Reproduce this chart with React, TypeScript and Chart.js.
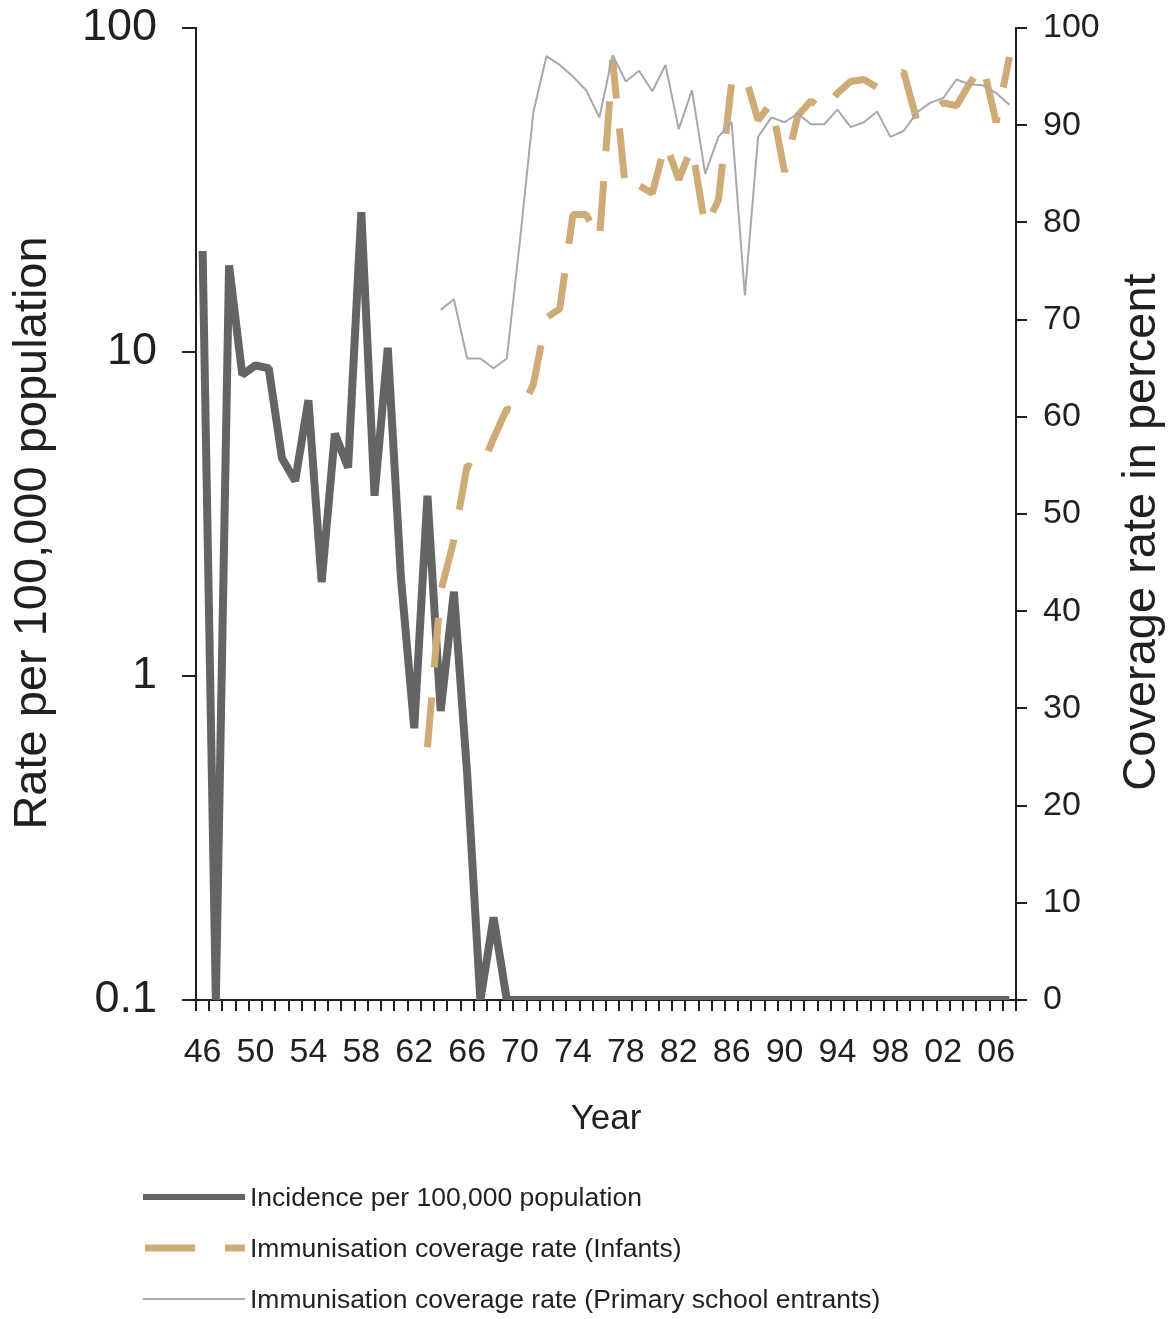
import React, { useEffect, useRef } from "react";
import { Chart, registerables } from "chart.js";

Chart.register(...registerables);

// ---------- DATA ----------
const years = [
  "1946", "1947", "1948", "1949", "1950", "1951", "1952", "1953", "1954", "1955",
  "1956", "1957", "1958", "1959", "1960", "1961", "1962", "1963", "1964", "1965",
  "1966", "1967", "1968", "1969", "1970", "1971", "1972", "1973", "1974", "1975",
  "1976", "1977", "1978", "1979", "1980", "1981", "1982", "1983", "1984", "1985",
  "1986", "1987", "1988", "1989", "1990", "1991", "1992", "1993", "1994", "1995",
  "1996", "1997", "1998", "1999", "2000", "2001", "2002", "2003", "2004", "2005",
  "2006", "2007",
];

const xTickLabels = ["46", "50", "54", "58", "62", "66", "70", "74", "78", "82", "86", "90", "94", "98", "02", "06"];
const leftTicks = [0.1, 1, 10, 100];

// Incidence per 100,000 population (log axis; 0.1 = axis floor / nil)
const incidence = [
  20.5, 0.1, 18.5, 8.5, 9.1, 8.9, 4.7, 4.0, 7.1, 1.95,
  5.6, 4.4, 27, 3.6, 10.3, 2.0, 0.69, 3.6, 0.78, 1.82,
  0.5, 0.1, 0.18, 0.1, 0.1, 0.1, 0.1, 0.1, 0.1, 0.1,
  0.1, 0.1, 0.1, 0.1, 0.1, 0.1, 0.1, 0.1, 0.1, 0.1,
  0.1, 0.1, 0.1, 0.1, 0.1, 0.1, 0.1, 0.1, 0.1, 0.1,
  0.1, 0.1, 0.1, 0.1, 0.1, 0.1, 0.1, 0.1, 0.1, 0.1,
  0.1, 0.1,
];

// Immunisation coverage rate (Infants), percent
const infants = [
  null, null, null, null, null, null, null, null, null, null,
  null, null, null, null, null, null, null, 26, 42, 47.3,
  55, 54.5, 57.8, 60.8, 60.5, 63.3, 70.2, 71.1, 80.8, 80.8,
  78.2, 96.7, 83.1, 83.8, 83, 88.2, 84.4, 87.8, 79.5, 82.3,
  94.4, 95.2, 90.5, 92.3, 85.2, 91, 92.5, 91.4, 93.3, 94.5,
  94.7, 93.9, 94.7, 95.5, 90.5, 91.3, 92.3, 92, 94.3, 96.2,
  90.3, 97,
];

// Immunisation coverage rate (Primary school entrants), percent
const primary = [
  null, null, null, null, null, null, null, null, null, null,
  null, null, null, null, null, null, null, null, 71.0, 72.1,
  66.0, 66.0, 65.0, 66.0, 78.2, 91.3, 97.1, 96.2, 95.0, 93.6,
  90.8, 97.2, 94.5, 95.6, 93.5, 96.2, 89.6, 93.6, 85.0, 88.8,
  90.3, 72.5, 88.8, 90.8, 90.3, 91.2, 90.1, 90.1, 91.6, 89.8,
  90.3, 91.4, 88.8, 89.4, 91.3, 92.3, 92.8, 94.7, 94.2, 94.1,
  93.3, 92.1,
];

const seriesLabels = [
  "Incidence per 100,000 population",
  "Immunisation coverage rate (Infants)",
  "Immunisation coverage rate (Primary school entrants)",
];
const xTitle = "Year";
const leftTitle = "Rate per 100,000 population";
const rightTitle = "Coverage rate in percent";

// ---------- STYLE ----------
const FONT = '"Liberation Sans", Arial, Helvetica, sans-serif';
const AXIS = "#231f20";
const DARK = "#646464";
const TAN = "#cfab78";
const GREY = "#a7a8ab";

const decorPlugin = {
  id: "decor",
  afterDraw(chart: any) {
    const ctx = chart.ctx as CanvasRenderingContext2D;
    ctx.save();
    ctx.fillStyle = AXIS;
    ctx.font = `47px ${FONT}`;
    ctx.textAlign = "center";
    ctx.textBaseline = "middle";
    const titles: [number, number, string][] = [
      [33, 533, leftTitle],
      [1142, 532, rightTitle],
    ];
    titles.forEach(([x, y, t]) => {
      ctx.save();
      ctx.translate(x, y);
      ctx.rotate(-Math.PI / 2);
      ctx.fillText(t, 0, 0);
      ctx.restore();
    });

    const legendWidths = [6, 7, 2];
    chart.data.datasets.forEach((ds: any, i: number) => {
      const y = 1197 + i * 51;
      ctx.save();
      ctx.strokeStyle = ds.borderColor;
      ctx.lineWidth = legendWidths[i];
      ctx.lineCap = "butt";
      ctx.setLineDash(ds.borderDash || []);
      ctx.lineDashOffset = ds.borderDash ? -2 : 0;
      ctx.beginPath();
      ctx.moveTo(143, y);
      ctx.lineTo(245, y);
      ctx.stroke();
      ctx.restore();
      ctx.fillStyle = AXIS;
      ctx.font = `26.5px ${FONT}`;
      ctx.textAlign = "left";
      ctx.textBaseline = "middle";
      ctx.fillText(ds.label, 250, y + 2);
    });
    ctx.restore();
  },
};

export default function App() {
  const canvasRef = useRef<HTMLCanvasElement | null>(null);

  useEffect(() => {
    if (!canvasRef.current) return;
    const chart = new Chart(canvasRef.current, {
      type: "line",
      data: {
        labels: years,
        datasets: [
          {
            label: seriesLabels[0],
            data: incidence,
            yAxisID: "yLeft",
            borderColor: DARK,
            backgroundColor: DARK,
            borderWidth: 8,
            borderJoinStyle: "bevel",
            pointRadius: 0,
            tension: 0,
            order: 3,
          },
          {
            label: seriesLabels[1],
            data: infants,
            yAxisID: "yRight",
            borderColor: TAN,
            backgroundColor: TAN,
            borderWidth: 7,
            borderDash: [50, 30],
            borderJoinStyle: "bevel",
            pointRadius: 0,
            tension: 0,
            order: 2,
          },
          {
            label: seriesLabels[2],
            data: primary,
            yAxisID: "yRight",
            borderColor: GREY,
            backgroundColor: GREY,
            borderWidth: 2,
            borderJoinStyle: "bevel",
            pointRadius: 0,
            tension: 0,
            order: 1,
          },
        ],
      },
      options: {
        responsive: false,
        devicePixelRatio: 1,
        animation: false,
        layout: { padding: { top: 28, bottom: 179, left: 0, right: 0 } },
        plugins: {
          legend: { display: false },
          tooltip: { enabled: false },
          title: { display: false },
        },
        scales: {
          x: {
            type: "category",
            offset: true,
            grid: {
              offset: true,
              drawOnChartArea: false,
              drawTicks: true,
              tickLength: 11,
              color: AXIS,
              lineWidth: 2,
            },
            border: { display: true, color: AXIS, width: 2 },
            ticks: {
              autoSkip: false,
              maxRotation: 0,
              minRotation: 0,
              padding: 21,
              color: AXIS,
              font: { family: FONT, size: 34 },
              callback: function (this: any, _v: any, idx: number) {
                const lab = years[idx].slice(2);
                return xTickLabels.includes(lab) ? lab : "";
              },
            },
            title: {
              display: true,
              text: xTitle,
              color: AXIS,
              font: { family: FONT, size: 35 },
              padding: 0,
            },
            afterFit: (scale: any) => {
              scale.height = 140;
              scale.paddingLeft = 0;
              scale.paddingRight = 0;
            },
          },
          yLeft: {
            type: "logarithmic",
            position: "left",
            min: 0.1,
            max: 100,
            afterBuildTicks: (scale: any) => {
              scale.ticks = leftTicks.map((v) => ({ value: v }));
            },
            grid: {
              drawOnChartArea: false,
              drawTicks: true,
              tickLength: 14,
              color: AXIS,
              lineWidth: 2,
            },
            border: { display: true, color: AXIS, width: 2 },
            ticks: {
              padding: 25,
              color: AXIS,
              font: { family: FONT, size: 45 },
              callback: (v: any) => String(v),
            },
            afterFit: (scale: any) => {
              scale.width = 196;
              scale.paddingTop = 0;
              scale.paddingBottom = 0;
            },
          },
          yRight: {
            type: "linear",
            position: "right",
            min: 0,
            max: 100,
            grid: {
              drawOnChartArea: false,
              drawTicks: true,
              tickLength: 11,
              color: AXIS,
              lineWidth: 2,
            },
            border: { display: true, color: AXIS, width: 2 },
            ticks: {
              stepSize: 10,
              padding: 16,
              color: AXIS,
              font: { family: FONT, size: 34 },
            },
            afterFit: (scale: any) => {
              scale.width = 157;
              scale.paddingTop = 0;
              scale.paddingBottom = 0;
            },
          },
        },
      },
      plugins: [decorPlugin],
    } as any);
    return () => chart.destroy();
  }, []);

  return (
    <div style={{ position: "absolute", left: 0, top: 0, width: 1173, height: 1319 }}>
      <canvas ref={canvasRef} width={1173} height={1319} style={{ display: "block", width: 1173, height: 1319 }} />
    </div>
  );
}
